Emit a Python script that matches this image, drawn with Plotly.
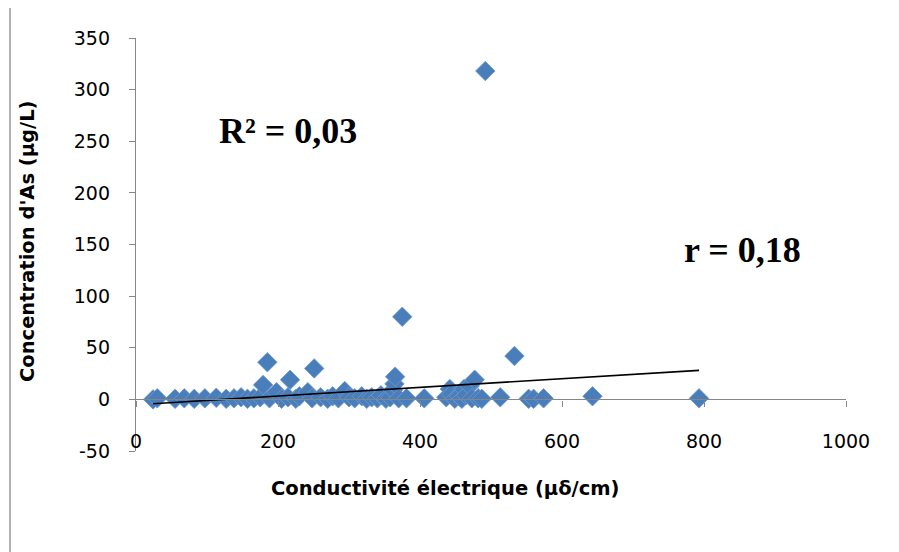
import plotly.graph_objects as go

# Conductivité électrique (µδ/cm)
conductivity = [24, 30, 55, 68, 82, 97, 113, 127, 138, 148, 157, 166, 175, 179, 185, 188,
                198, 205, 214, 217, 225, 230, 242, 248, 251, 260, 270, 277, 285, 294,
                300, 308, 318, 325, 332, 340, 345, 352, 358, 362, 364, 365, 370, 375,
                381, 406, 437, 442, 444, 449, 455, 459, 462, 465, 470, 473, 477, 482,
                487, 492, 513, 533, 553, 560, 574, 643, 793]
# Concentration d'As (µg/L)
arsenic = [0, 1, 0.5, 1, 0.5, 1, 1.5, 0.5, 1, 2, 0.5, 1, 2, 14, 36, 1,
           7, 0.5, 2, 19, 0.5, 3, 7, 1, 30, 2, 0.5, 3, 1, 8,
           2, 1, 3, 0.5, 2, 1, 4, 0.5, 2, 9, 15, 22, 1, 80,
           1, 1, 2, 10, 5, 0.5, 3, 0.5, 10, 4, 13, 1, 19, 1,
           0.5, 318, 2, 42, 0.5, 0.5, 1, 3, 1]

# Linear trend
trend_intercept = -5.2
trend_slope = 0.042

x_ticks = [0, 200, 400, 600, 800, 1000]
y_ticks = [-50, 0, 50, 100, 150, 200, 250, 300, 350]

trend_x = [min(conductivity), max(conductivity)]
trend_y = [trend_intercept + trend_slope * v for v in trend_x]

fig = go.Figure()
fig.add_trace(go.Scatter(
    x=conductivity, y=arsenic, mode="markers",
    marker=dict(symbol="diamond", size=15, color="#4a7ebb",
                line=dict(color="#6f99cf", width=0.8)),
    showlegend=False, hoverinfo="x+y"))
fig.add_trace(go.Scatter(
    x=trend_x, y=trend_y, mode="lines",
    line=dict(color="black", width=1.6), showlegend=False))

FONT = "'DejaVu Sans', sans-serif"
axis_font = dict(family=FONT, size=19, color="black")
# page body has an 8px margin: figure placed at (8, 8)
W, H = 891, 544
L, R, T, B = 128, 53, 30, 101
pw, ph = W - L - R, H - T - B

fig.update_layout(
    width=W, height=H,
    margin=dict(l=L, r=R, t=T, b=B),
    paper_bgcolor="white", plot_bgcolor="white",
    xaxis=dict(range=[0, 1000], tickvals=x_ticks, ticktext=[str(v) for v in x_ticks],
               showgrid=False, zeroline=False, showline=True, linecolor="#868686",
               linewidth=1.3, ticks="outside", ticklen=6, tickcolor="#868686",
               anchor="free", position=0.125, ticklabelstandoff=19,
               tickfont=axis_font),
    yaxis=dict(range=[-50, 350], tickvals=y_ticks, ticktext=[str(v) for v in y_ticks],
               showgrid=False, zeroline=False, showline=True, linecolor="#868686",
               linewidth=1.3, ticks="outside", ticklen=6, tickcolor="#868686",
               ticklabelstandoff=15, tickfont=axis_font),
    annotations=[
        dict(text="<b>Concentration d'As (µg/L)</b>", xref="paper", yref="paper",
             x=(27 - 136) / pw, y=(451 - 241) / ph, textangle=-90, showarrow=False,
             font=dict(family=FONT, size=19.5, color="black"),
             xanchor="center", yanchor="middle"),
        dict(text="<b>Conductivité électrique (µδ/cm)</b>", xref="paper", yref="paper",
             x=(445 - 136) / pw, y=(451 - 488) / ph, showarrow=False,
             font=dict(family=FONT, size=19.5, color="black"),
             xanchor="center", yanchor="middle"),
        dict(text="<b>R² = 0,03</b>", xref="paper", yref="paper",
             x=(288 - 136) / pw, y=(451 - 131) / ph, showarrow=False,
             font=dict(family="'Liberation Serif', 'Times New Roman', serif", size=36, color="black"),
             xanchor="center", yanchor="middle"),
        dict(text="<b>r = 0,18</b>", xref="paper", yref="paper",
             x=(742 - 136) / pw, y=(451 - 250) / ph, showarrow=False,
             font=dict(family="'Liberation Serif', 'Times New Roman', serif", size=36, color="black"),
             xanchor="center", yanchor="middle"),
    ],
    shapes=[dict(type="line", xref="paper", yref="paper",
                 x0=(10 - 136) / pw, x1=(10 - 136) / pw,
                 y0=(451 - 560) / ph, y1=(451 + 8) / ph,
                 line=dict(color="#868686", width=1.3))],
)

fig.write_html("out.html")
